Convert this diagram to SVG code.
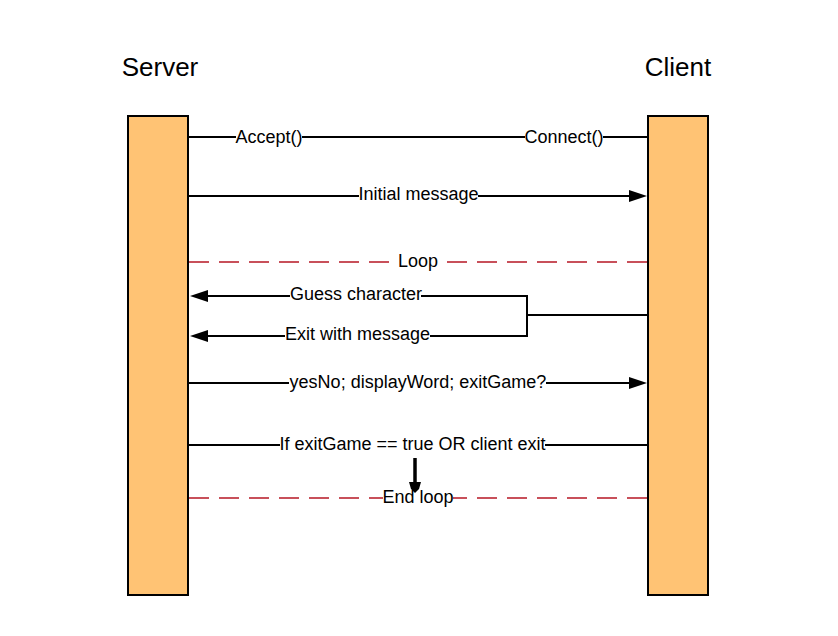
<svg xmlns="http://www.w3.org/2000/svg" width="838" height="636" viewBox="0 0 838 636">
<style>
.life{fill:#FFC374;stroke:#000;stroke-width:2}
.title{font-family:"Liberation Sans",Arial,sans-serif;font-size:26px;fill:#000;text-anchor:middle}
.lbl{font-family:"Liberation Sans",Arial,sans-serif;font-size:18px;fill:#000;text-anchor:middle}
.ln{stroke:#000;stroke-width:2;fill:none}
.dash{stroke:#C8505A;stroke-width:2;fill:none;stroke-dasharray:20 10}
.head{fill:#000}
</style>
<rect width="838" height="636" fill="#fff"/>
<g id="server">
<rect class="life" x="128" y="116" width="60" height="479"/>
<text class="title" x="160" y="76">Server</text>
</g>
<g id="client">
<rect class="life" x="648" y="116" width="60" height="479"/>
<text class="title" x="678" y="76">Client</text>
</g>
<g id="connectors">
<path class="ln" d="M189 137H236M302 137H525M603 137H647"/>
<text class="lbl" x="269" y="143">Accept()</text>
<text class="lbl" x="564" y="143">Connect()</text>

<path class="ln" d="M189 196H359M478 196H632"/>
<polygon class="head" points="647,196 629,190 629,202"/>
<text class="lbl" x="418.5" y="200">Initial message</text>

<path class="dash" d="M189 262H397"/>
<path class="dash" d="M647 262H438"/>
<text class="lbl" x="418" y="267">Loop</text>

<path class="ln" d="M527 296H421M290 296H205"/>
<polygon class="head" points="190,296 208,290 208,302"/>
<text class="lbl" x="356" y="300">Guess character</text>

<path class="ln" d="M527 336H430M285 336H205"/>
<polygon class="head" points="190,336 208,330 208,342"/>
<text class="lbl" x="357.5" y="340">Exit with message</text>

<path class="ln" d="M527 295V337M527 315H647"/>

<path class="ln" d="M189 383H289M546 383H632"/>
<polygon class="head" points="647,383 629,377 629,389"/>
<text class="lbl" x="418" y="388">yesNo; displayWord; exitGame?</text>

<path class="ln" d="M189 445H280M545 445H647"/>
<text class="lbl" x="412.5" y="450">If exitGame == true OR client exit</text>

<path d="M415 458V484" stroke="#000" stroke-width="3.5" fill="none"/>
<polygon class="head" points="409,482 421,482 419,489 415,493 411,489"/>

<path class="dash" d="M189 498H383"/>
<path class="dash" d="M647 498H453"/>
<text class="lbl" x="418" y="503">End loop</text>
</g>
</svg>
